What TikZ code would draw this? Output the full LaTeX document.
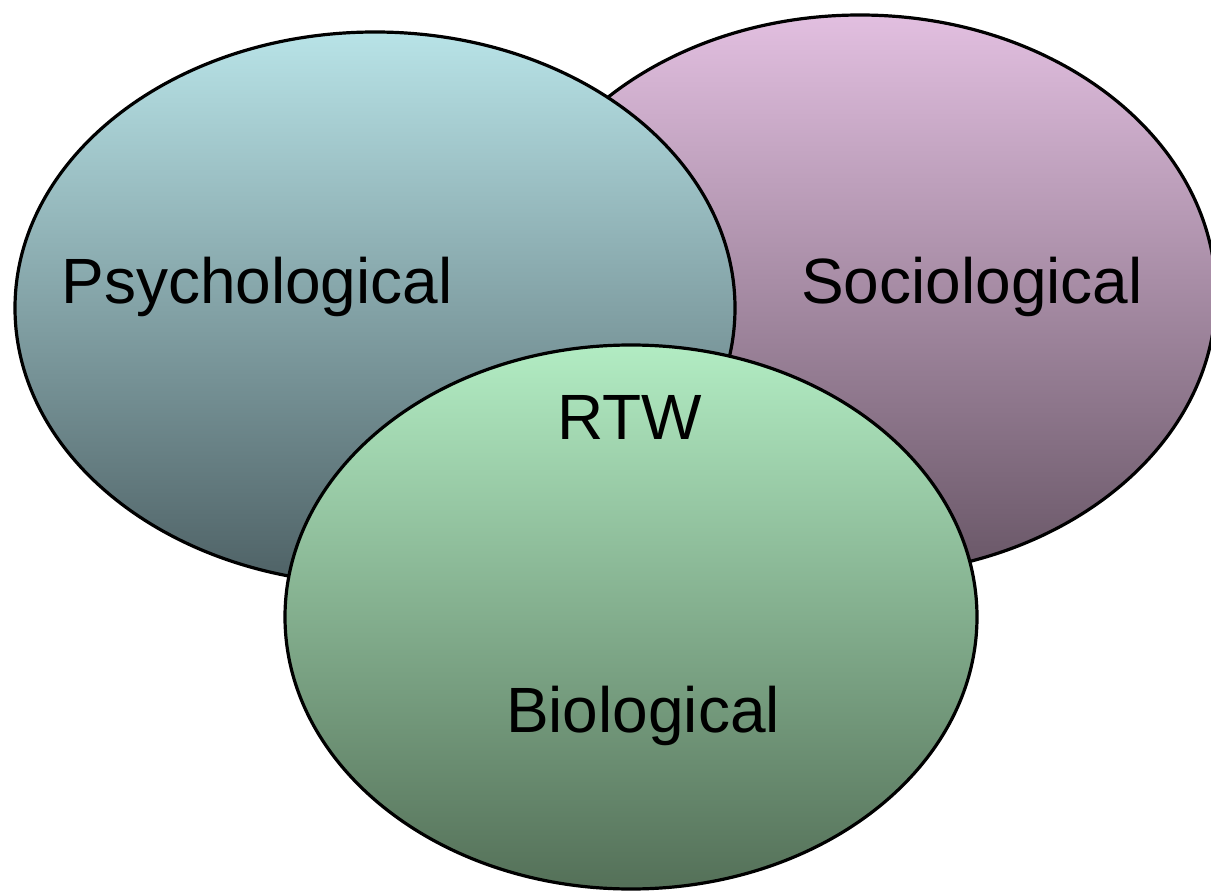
\documentclass[tikz,border=0pt]{standalone}
\usepackage{fontspec}
\setmainfont{Liberation Sans}
\usetikzlibrary{shapes.geometric}

\definecolor{psytop}{RGB}{184,227,231}
\definecolor{psymid}{RGB}{146,180,184}
\definecolor{psybot}{RGB}{78,97,101}
\definecolor{soctop}{RGB}{226,191,224}
\definecolor{socmid}{RGB}{182,152,178}
\definecolor{socbot}{RGB}{104,86,102}
\definecolor{biotop}{RGB}{178,236,195}
\definecolor{biomid}{RGB}{146,196,158}
\definecolor{biobot}{RGB}{84,112,88}

\begin{document}
\begin{tikzpicture}[x=0.75pt, y=-0.75pt,
    bubble/.style={ellipse, draw=black, line width=2.4pt, inner sep=0pt},
    lbl/.style={anchor=base, font=\fontsize{48}{56}\selectfont}]
    % page frame
    \useasboundingbox (0,0) rectangle (1211,891);

    % ellipses, back to front
    \node[bubble, top color=soctop, middle color=socmid, bottom color=socbot,
          minimum width=534pt, minimum height=420pt] (soc) at (860,295) {};
    \node[bubble, top color=psytop, middle color=psymid, bottom color=psybot,
          minimum width=540pt, minimum height=414pt] (psy) at (375,308) {};
    \node[bubble, top color=biotop, middle color=biomid, bottom color=biobot,
          minimum width=519pt, minimum height=408pt] (bio) at (631,617) {};

    % labels
    \node[lbl] (psytext) at (257,304) {Psychological};
    \node[lbl] (soctext) at (972,304) {Sociological};
    \node[lbl] (rtw) at (630,440) {RTW};
    \node[lbl] (biotext) at (643,732) {Biological};
\end{tikzpicture}
\end{document}
